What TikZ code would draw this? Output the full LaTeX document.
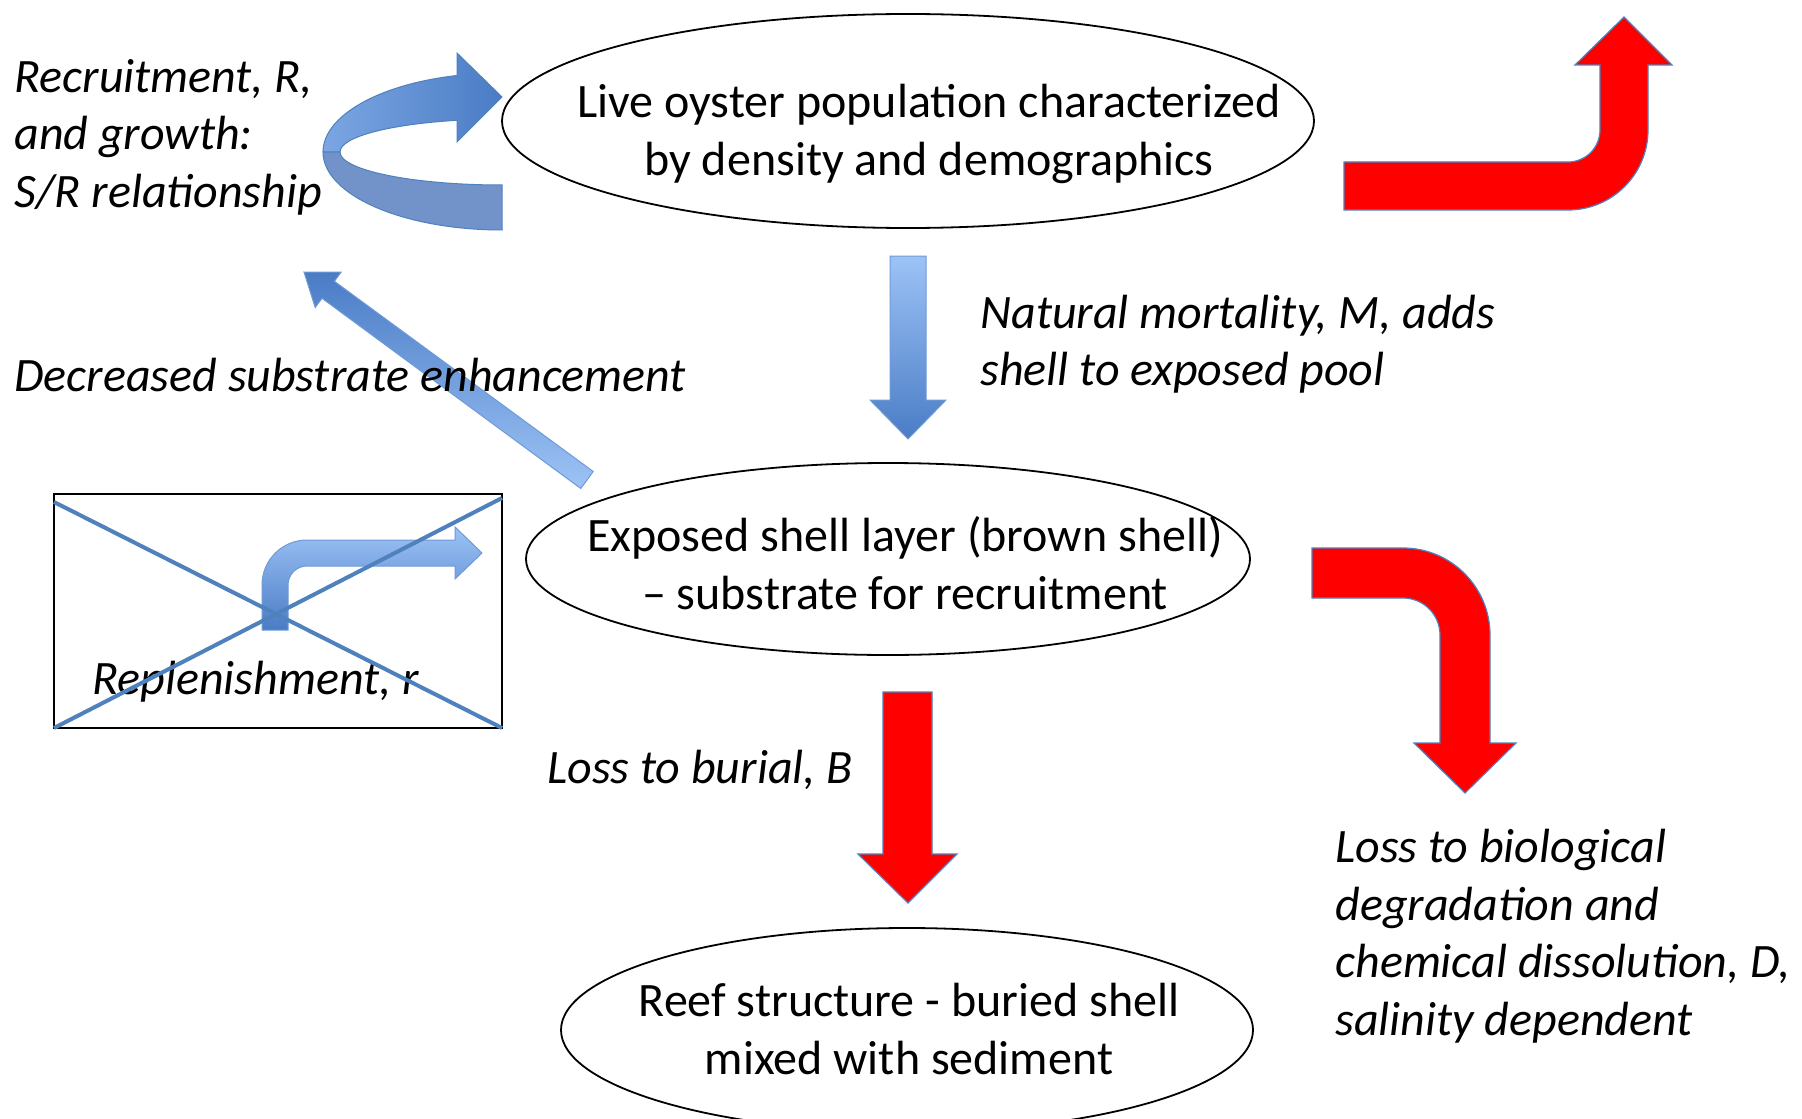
\documentclass[tikz,border=0pt]{standalone}
\usepackage{fontspec}
\setmainfont{Carlito}
\usetikzlibrary{shapes.geometric}
\definecolor{obl}{HTML}{4F81BD}
\definecolor{bdark}{HTML}{4A7CC5}
\definecolor{blight}{HTML}{9DC3F6}
\definecolor{bmid}{HTML}{7BA6E2}
\definecolor{bback}{HTML}{7193CA}
\definecolor{bedge}{HTML}{6E9BD8}
\begin{document}
\begin{tikzpicture}[x=0.5pt,y=-0.5pt,
  lbl/.style={font=\fontsize{24}{28.75}\selectfont\itshape,inner sep=0pt,align=left,anchor=west},
  ctext/.style={font=\fontsize{24}{28.75}\selectfont,inner sep=0pt,align=center},
  oval/.style={ellipse,draw=black,line width=0.9pt,fill=white,inner sep=0pt},
  redarr/.style={fill=red,draw=obl,line width=0.6pt,line join=miter},
  bluearr/.style={draw=bedge,line width=0.5pt,line join=miter}]
\useasboundingbox (0,0) rectangle (1802,1118);
\clip (0,0) rectangle (1802,1118);
\fill[white] (0,0) rectangle (1802,1118);

% ---- ellipses ----
\node[oval,minimum width=406pt,minimum height=107pt] (live) at (908,121) {};
\node[oval,minimum width=362pt,minimum height=96pt] (exposed) at (888,559) {};
\node[oval,minimum width=346pt,minimum height=102pt] (reef) at (907,1030) {};

\node[ctext] (livetxt) at (929,134) {Live oyster population characterized\\by density and demographics};
\node[ctext] (exptxt) at (905,563) {Exposed shell layer (brown shell)\\– substrate for recruitment};
\node[ctext] (reeftxt) at (909,1029) {Reef structure - buried shell\\mixed with sediment};

% ---- recruitment ribbon arrow ----
\filldraw[fill=bback,draw=obl,line width=0.5pt]
  (323,152) .. controls (323,195) and (403,230) .. (502,230) -- (502,185)
  .. controls (412.6,185) and (340,170.2) .. (340,152) -- cycle;
\shadedraw[left color=bmid,right color=bdark,draw=obl,line width=0.5pt,line join=miter]
  (457,120.3) -- (457,142) -- (502,97) -- (457,53) -- (457,75.5)
  .. controls (377.9,84.4) and (323,116.4) .. (323,152) -- (340,152)
  .. controls (340,137.3) and (387.6,124.4) .. (457,120.3) -- cycle;

% ---- natural mortality arrow ----
\shadedraw[bluearr,top color=blight,bottom color=bdark]
  (890,256) -- (926,256) -- (926,400) -- (946,400) -- (908,439) -- (870,400) -- (890,400) -- cycle;

% ---- decreased substrate enhancement arrow ----
\shadedraw[bluearr,top color=bdark,bottom color=blight]
  (593.2,471.5) -- (334.4,281.3) -- (341.2,272.1) -- (304,272) -- (315.2,307.5)
  -- (322.0,298.3) -- (580.8,488.5) -- cycle;

% ---- replenishment box ----
\draw[black,line width=0.75pt] (54,494) rectangle (502,728);
\shadedraw[bluearr,top color=blight,bottom color=bdark]
  (262,630) -- (262,585) .. controls (262,560.1) and (282.1,540) .. (307,540)
  -- (455,540) -- (455,527) -- (482,553) -- (455,579) -- (455,566) -- (307,566)
  .. controls (296.5,566) and (288,574.5) .. (288,585) -- (288,630) -- cycle;

% ---- red arrows ----
\filldraw[redarr]
  (1344,162) -- (1568,162) .. controls (1585.7,162) and (1600,147.7) .. (1600,130)
  -- (1600,65) -- (1575,65) -- (1624,17) -- (1672,65) -- (1648,65) -- (1648,130)
  .. controls (1648,174.2) and (1612.2,210) .. (1568,210) -- (1344,210) -- cycle;
\filldraw[redarr]
  (1312,548) -- (1403,548) .. controls (1451,548) and (1490,587) .. (1490,635)
  -- (1490,743) -- (1516,743) -- (1465,793) -- (1414,743) -- (1440,743) -- (1440,635)
  .. controls (1440,614.6) and (1423.4,598) .. (1403,598) -- (1312,598) -- cycle;
\filldraw[redarr]
  (883,692) -- (932,692) -- (932,854) -- (957,854) -- (908,903) -- (858,854) -- (883,854) -- cycle;

% ---- labels ----
\node[lbl] (rec) at (14,137) {Recruitment, R,\\and growth:\\S/R relationship};
\node[lbl] (dec) at (14,375) {Decreased substrate enhancement};
\node[lbl] (rep) at (92,682) {Replenishment, r};
\node[lbl] (nat) at (980,344) {Natural mortality, M, adds\\shell to exposed pool};
\node[lbl] (bur) at (547,770) {Loss to burial, B};
\node[lbl] (bio) at (1335,936) {Loss to biological\\degradation and\\chemical dissolution, D,\\salinity dependent};

% ---- cross over replenishment box ----
\draw[obl,line width=2pt] (54,502) -- (502,728);
\draw[obl,line width=2pt] (54,728) -- (502,498);
\end{tikzpicture}
\end{document}
